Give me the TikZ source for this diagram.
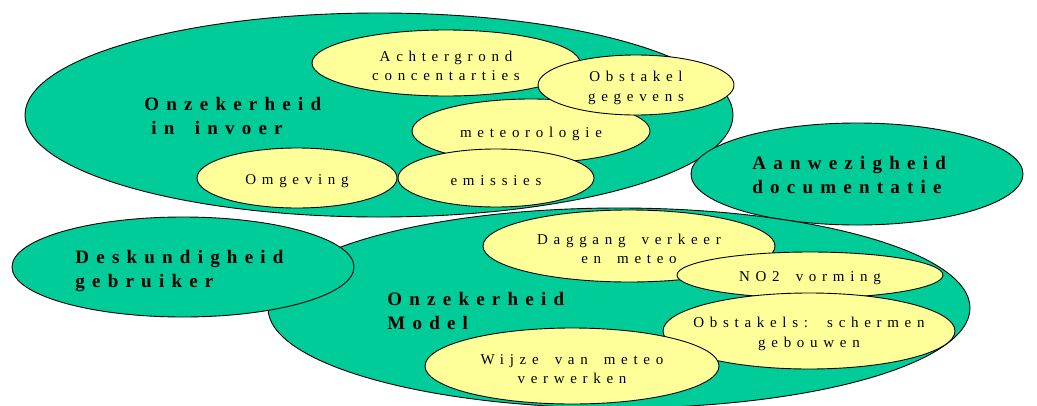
\documentclass[tikz,border=0pt]{standalone}
\usepackage{fontspec}
\setmainfont{Liberation Serif}
\newfontfamily\spacedfont[LetterSpace=38, WordSpace=1.7]{Liberation Serif}
\usetikzlibrary{shapes.geometric}
\definecolor{sea}{RGB}{0,204,153}
\definecolor{cream}{RGB}{255,255,153}

\begin{document}
\begin{tikzpicture}[x = 1pt, y = -1pt, every node/.style = {ellipse, draw = black, line width = 0.9pt, inner sep = 0pt},
	big/.style = {fill = sea}, small/.style = {fill = cream},
	bigtext/.style = {shape = rectangle, draw = none, fill = none, align = left, anchor = west, font = \spacedfont\bfseries\fontsize{19}{24}\selectfont},
	smalltext/.style = {shape = rectangle, draw = none, fill = none, align = center, yshift = -3pt, font = \spacedfont\fontsize{15}{19.5}\selectfont}]

	\useasboundingbox (0,0) rectangle (1037,405);

	% invoer
	\node (INV) at (379,115) [big, minimum width = 708pt, minimum height = 204pt] {};
	\node (ACH) at (446, 63) [small, minimum width = 268pt, minimum height = 66pt] {};
	\node (MET) at (531,131) [small, minimum width = 238pt, minimum height = 64pt] {};
	\node (EMI) at (496,178) [small, minimum width = 196pt, minimum height = 58pt] {};
	\node (OMG) at (297,178) [small, minimum width = 200pt, minimum height = 60pt] {};
	\node (OBS) at (636, 85) [small, minimum width = 196pt, minimum height = 60pt] {};

	% documentatie
	\node (AAN) at (857,174) [big, minimum width = 332pt, minimum height = 102pt] {};

	% model
	\node (MOD) at (619,308) [big, minimum width = 702pt, minimum height = 200pt] {};
	\node (DAG) at (629,246) [small, minimum width = 292pt, minimum height = 72pt] {};
	\node (NO2) at (810,275) [small, minimum width = 266pt, minimum height = 46pt] {};
	\node (OBG) at (809,331) [small, minimum width = 292pt, minimum height = 76pt] {};
	\node (WIJ) at (572,366) [small, minimum width = 294pt, minimum height = 76pt] {};

	% gebruiker
	\node (DES) at (183,267) [big, minimum width = 342pt, minimum height = 100pt] {};

	% labels
	\node (INVt) at (144,116) [bigtext] {Onzekerheid\\\hspace*{7pt}in invoer};
	\node (AANt) at (752,175) [bigtext] {Aanwezigheid\\documentatie};
	\node (MODt) at (387,311) [bigtext] {Onzekerheid\\Model};
	\node (DESt) at ( 75,271) [bigtext] {Deskundigheid\\gebruiker};

	\node (ACHt) at (ACH) [smalltext] {Achtergrond\\concentarties};
	\node (METt) at (MET) [smalltext] {meteorologie};
	\node (EMIt) at (EMI) [smalltext] {emissies};
	\node (OMGt) at (OMG) [smalltext] {Omgeving};
	\node (OBSt) at (OBS) [smalltext] {Obstakel\\gegevens};
	\node (DAGt) at (DAG) [smalltext] {Daggang verkeer\\en meteo};
	\node (NO2t) at (NO2) [smalltext] {NO2 vorming};
	\node (OBGt) at (OBG) [smalltext] {Obstakels: schermen\\gebouwen};
	\node (WIJt) at (WIJ) [smalltext] {Wijze van meteo\\verwerken};

\end{tikzpicture}
\end{document}
